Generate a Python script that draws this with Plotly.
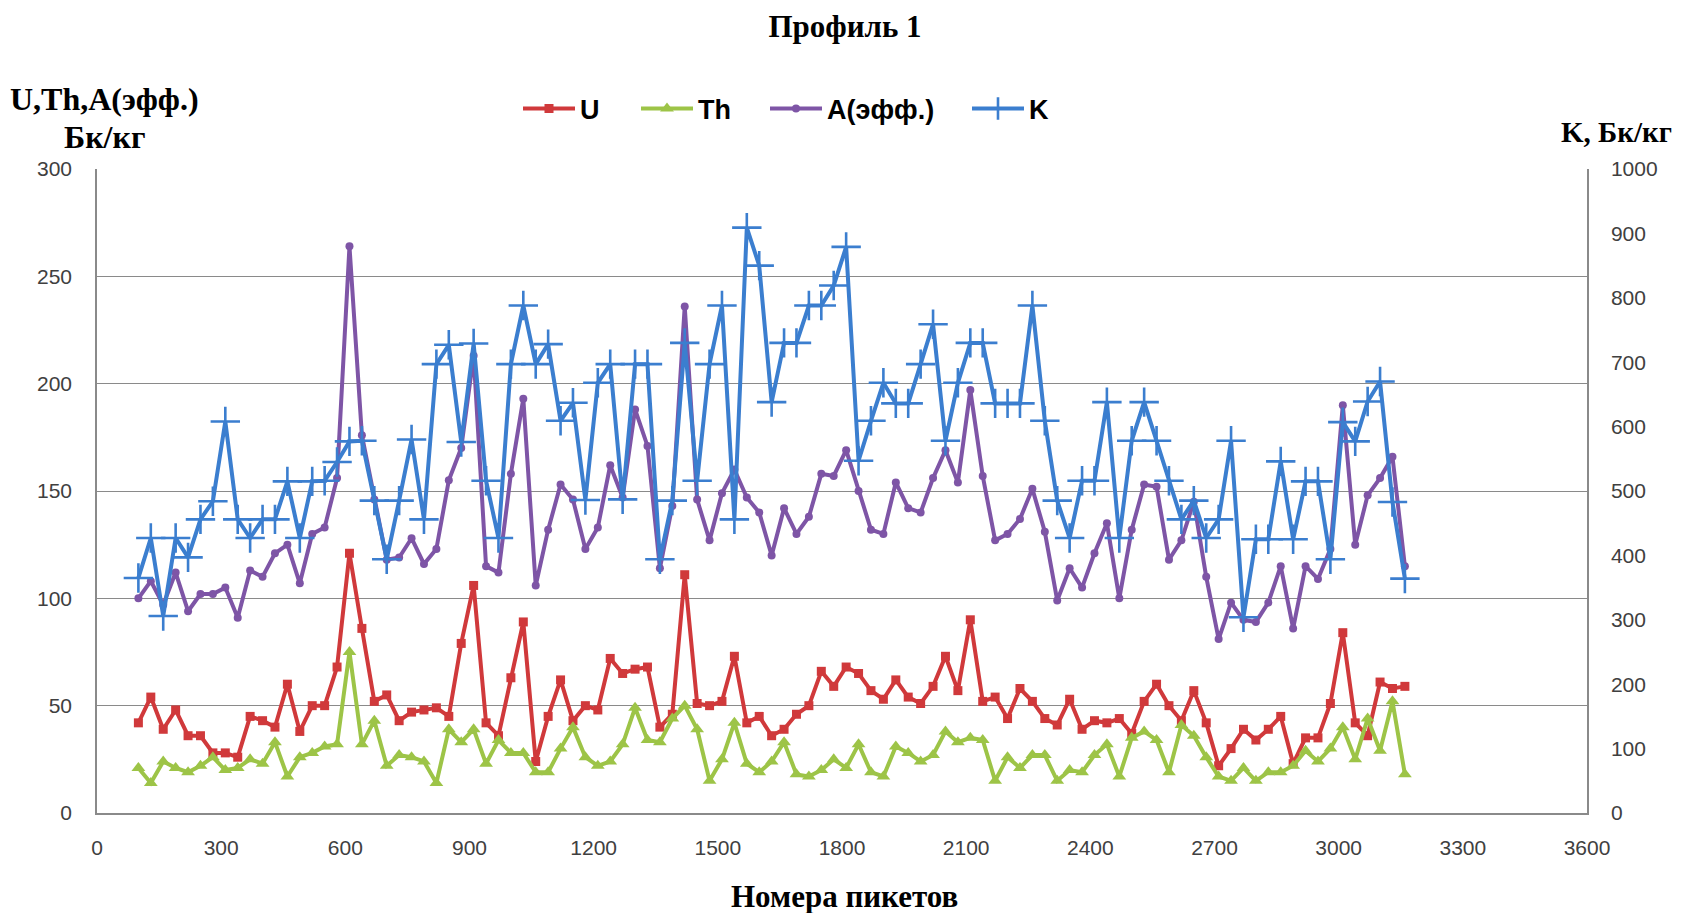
import plotly.graph_objects as go

pickets = [100 + 30 * i for i in range(103)]

u_vals = [42, 54, 39, 48, 36, 36, 28, 28, 26, 45, 43, 40, 60, 38, 50, 50, 68, 121, 86, 52,
          55, 43, 47, 48, 49, 45, 79, 106, 42, 36, 63, 89, 24, 45, 62, 43, 50, 48, 72, 65,
          67, 68, 40, 46, 111, 51, 50, 52, 73, 42, 45, 36, 39, 46, 50, 66, 59, 68, 65, 57,
          53, 62, 54, 51, 59, 73, 57, 90, 52, 54, 44, 58, 52, 44, 41, 53, 39, 43, 42, 44,
          37, 52, 60, 50, 43, 57, 42, 22, 30, 39, 34, 39, 45, 23, 35, 35, 51, 84, 42, 36,
          61, 58, 59]

th_vals = [21, 14, 24, 21, 19, 22, 26, 20, 21, 25, 23, 33, 17, 26, 28, 31, 32, 75, 32, 43,
           22, 27, 26, 24, 14, 39, 33, 39, 23, 34, 28, 28, 19, 19, 30, 40, 26, 22, 24, 32,
           49, 34, 33, 44, 50, 39, 15, 25, 42, 23, 19, 24, 33, 18, 17, 20, 25, 21, 32, 19,
           17, 31, 28, 24, 27, 38, 33, 35, 34, 15, 26, 21, 27, 27, 15, 20, 19, 27, 32, 17,
           35, 38, 34, 19, 41, 36, 26, 17, 15, 21, 15, 19, 19, 22, 29, 24, 30, 40, 25, 44,
           29, 52, 18]

a_vals = [100, 108, 97, 112, 94, 102, 102, 105, 91, 113, 110, 121, 125, 107, 130, 133, 156, 264, 176, 146,
          118, 119, 128, 116, 123, 155, 170, 213, 115, 112, 158, 193, 106, 132, 153, 146, 123, 133, 162, 147,
          188, 171, 114, 143, 236, 146, 127, 149, 160, 147, 140, 120, 142, 130, 138, 158, 157, 169, 150, 132,
          130, 154, 142, 140, 156, 169, 154, 197, 157, 127, 130, 137, 151, 131, 99, 114, 105, 121, 135, 100,
          132, 153, 152, 118, 127, 145, 110, 81, 98, 90, 89, 98, 115, 86, 115, 109, 123, 190, 125, 148,
          156, 166, 115]

k_vals = [365, 427, 306, 427, 397, 456, 484, 608, 456, 427, 456, 456, 515, 427, 515, 516, 545, 577, 578, 485,
          394, 485, 580, 456, 697, 727, 576, 729, 516, 427, 697, 788, 697, 728, 609, 637, 486, 668, 697, 487,
          697, 697, 394, 485, 730, 516, 697, 788, 456, 909, 850, 638, 730, 730, 788, 788, 819, 879, 547, 609,
          668, 636, 636, 697, 759, 578, 668, 730, 730, 636, 636, 636, 788, 609, 485, 427, 516, 516, 638, 427,
          578, 638, 578, 516, 456, 485, 427, 456, 578, 304, 425, 425, 546, 425, 515, 515, 394, 607, 577, 639,
          670, 483, 364]

x_ticks = list(range(0, 3601, 300))
left_ticks = list(range(0, 301, 50))
right_ticks = list(range(0, 1001, 100))

C_U = "#D0393B"
C_TH = "#9DC447"
C_A = "#7E55A6"
C_K = "#3B7ECF"

# page body adds an 8 px margin; lay the figure out in page coordinates minus that offset
OFF = 8
W, H = 1684 - OFF, 913 - OFF
PL, PR, PT, PB = 97 - OFF, 1587 - OFF, 169 - OFF, 813 - OFF
PH = PB - PT
PW = PR - PL

fig = go.Figure()
fig.add_trace(go.Scatter(x=pickets, y=u_vals, name="<b>U</b>", mode="lines+markers", legend="legend",
                         line=dict(color=C_U, width=4),
                         marker=dict(symbol="square", size=9, color=C_U)))
fig.add_trace(go.Scatter(x=pickets, y=th_vals, name="<b>Th</b>", mode="lines+markers", legend="legend2",
                         line=dict(color=C_TH, width=4),
                         marker=dict(symbol="triangle-up", size=12, color=C_TH)))
fig.add_trace(go.Scatter(x=pickets, y=a_vals, name="<b>A(эфф.)</b>", mode="lines+markers", legend="legend3",
                         line=dict(color=C_A, width=4),
                         marker=dict(symbol="circle", size=8, color=C_A)))
fig.add_trace(go.Scatter(x=pickets, y=k_vals, name="<b>K</b>", mode="lines+markers", yaxis="y2",
                         legend="legend4",
                         line=dict(color=C_K, width=4),
                         marker=dict(symbol="cross-thin", size=21, color=C_K,
                                     line=dict(color=C_K, width=2.6))))

tick_font = dict(family="Liberation Sans, Arial, sans-serif", size=21, color="#404040")
serif = "Liberation Serif, Times New Roman, serif"
leg_font = dict(family="Liberation Sans, Arial, sans-serif", size=27, color="#000000")


def leg(page_x, page_y):
    return dict(orientation="h", xref="container", yref="container",
                x=(page_x - OFF) / W, xanchor="left", y=1 - (page_y - OFF) / H, yanchor="middle",
                font=leg_font, bgcolor="rgba(0,0,0,0)", borderwidth=0, itemwidth=52)


fig.update_layout(
    width=W, height=H,
    paper_bgcolor="white", plot_bgcolor="white",
    margin=dict(l=PL, r=W - PR, t=PT, b=H - PB, autoexpand=False),
    title=dict(text="<b>Профиль 1</b>", x=(845 - OFF) / W, xanchor="center", y=1 - (26 - OFF) / H,
               yanchor="middle", font=dict(family=serif, size=31, color="#000000")),
    showlegend=True,
    legend=leg(518, 109),
    legend2=leg(636, 109),
    legend3=leg(765, 109),
    legend4=leg(967, 109),
    xaxis=dict(range=[0, 3600], tickvals=x_ticks, ticktext=[str(v) for v in x_ticks],
               showgrid=False, zeroline=False, showline=True, linecolor="#8a8a8a", linewidth=2,
               ticks="", tickfont=tick_font, ticklabelstandoff=15, automargin=False),
    yaxis=dict(range=[0, 300], tickvals=left_ticks, showgrid=True, gridcolor="#8a8a8a", gridwidth=1.3,
               zeroline=False, showline=True, linecolor="#8a8a8a", linewidth=1.5, mirror=False,
               ticks="", tickfont=tick_font, ticklabelstandoff=19, automargin=False),
    yaxis2=dict(range=[0, 1000], tickvals=right_ticks, overlaying="y", side="right", showgrid=False,
                zeroline=False, showline=True, linecolor="#8a8a8a", linewidth=1.5,
                ticks="", tickfont=tick_font, ticklabelstandoff=18, automargin=False),
)


def ann(text, page_x, page_y, size=31):
    fig.add_annotation(text=text, xref="paper", yref="paper",
                       x=(page_x - OFF - PL) / PW, y=(PB - (page_y - OFF)) / PH,
                       xanchor="center", yanchor="middle", showarrow=False,
                       font=dict(family=serif, size=size, color="#000000"))


ann("<b>U,Th,A(эфф.)</b>", 104, 99, 32)
ann("<b>Бк/кг</b>", 104, 137, 32)
ann("<b>K, Бк/кг</b>", 1616, 132, 29)
ann("<b>Номера пикетов</b>", 844, 896, 31)

fig.write_html("out.html")
